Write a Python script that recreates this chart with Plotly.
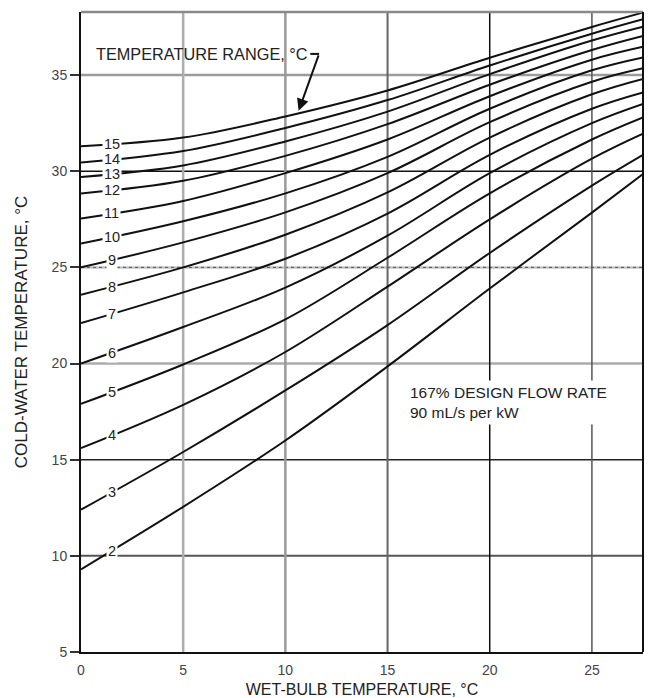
import numpy as np
import plotly.graph_objects as go

# ---- data ----
wet_bulb = [0, 5, 10, 15, 20, 25, 27.5]          # wet-bulb temperature, °C
range_labels = [2, 3, 4, 5, 6, 7, 8, 9, 10, 11, 12, 13, 14, 15]   # temperature range, °C

cw_range_2 = [9.3, 12.55, 16.0, 19.85, 23.9, 27.85, 29.85]
cw_range_3 = [12.4, 15.4, 18.6, 22.0, 25.75, 29.25, 30.85]
cw_range_4 = [15.6, 17.85, 20.6, 24.0, 27.5, 30.65, 31.95]
cw_range_5 = [17.9, 19.95, 22.3, 25.5, 28.85, 31.65, 32.8]
cw_range_6 = [20.0, 21.9, 23.95, 26.65, 29.9, 32.5, 33.5]
cw_range_7 = [22.1, 23.7, 25.45, 27.8, 30.85, 33.25, 34.1]
cw_range_8 = [23.58, 25.0, 26.7, 28.9, 31.75, 34.0, 34.8]
cw_range_9 = [25.0, 26.3, 27.86, 29.9, 32.55, 34.65, 35.35]
cw_range_10 = [26.24, 27.4, 28.85, 30.75, 33.25, 35.25, 35.92]
cw_range_11 = [27.54, 28.45, 29.9, 31.65, 33.9, 35.8, 36.47]
cw_range_12 = [28.84, 29.5, 30.8, 32.45, 34.5, 36.3, 37.03]
cw_range_13 = [29.7, 30.3, 31.55, 33.1, 35.05, 36.8, 37.52]
cw_range_14 = [30.45, 31.05, 32.25, 33.7, 35.5, 37.15, 37.9]
cw_range_15 = [31.3, 31.75, 32.85, 34.2, 35.9, 37.5, 38.25]

cold_water_series = [cw_range_2, cw_range_3, cw_range_4, cw_range_5, cw_range_6,
                     cw_range_7, cw_range_8, cw_range_9, cw_range_10, cw_range_11,
                     cw_range_12, cw_range_13, cw_range_14, cw_range_15]

x_ticks = [0, 5, 10, 15, 20, 25]
y_ticks = [5, 10, 15, 20, 25, 30, 35]

# grid lines (value, colour, width)
h_grid = [(35, "#9c9c9c", 2.5), (30, "#111111", 1.5), (25, "#c4c4c4", 2.5),
          (20, "#ababab", 2.5), (15, "#222222", 1.5), (10, "#555555", 2.0)]
v_grid = [(5, "#adadad", 2.5), (10, "#9a9a9a", 2.5), (15, "#666666", 2.0),
          (20, "#111111", 1.5), (25, "#555555", 1.5)]

X_MAX = 27.5
Y_MIN, Y_MAX = 5, 38.28
FONT = "Liberation Sans, Arial, Helvetica, sans-serif"

fig = go.Figure()

for r, vals in zip(range_labels, cold_water_series):
    fig.add_trace(go.Scatter(
        x=wet_bulb, y=vals, mode="lines", name=f"{r} °C",
        line=dict(color="#111111", width=2, shape="spline", smoothing=1.0),
        showlegend=False, hoverinfo="x+y+name"))

shapes = []
for val, col, w in h_grid:
    shapes.append(dict(type="line", xref="x", yref="y", x0=0, x1=X_MAX, y0=val, y1=val,
                       line=dict(color=col, width=w), layer="below"))
# dotted overlay on the 25 line
shapes.append(dict(type="line", xref="x", yref="y", x0=0, x1=X_MAX, y0=25, y1=25,
                   line=dict(color="#555555", width=1, dash="dot"), layer="below"))
for val, col, w in v_grid:
    shapes.append(dict(type="line", xref="x", yref="y", x0=val, x1=val, y0=Y_MIN, y1=Y_MAX,
                       line=dict(color=col, width=w), layer="below"))
# frame
shapes.append(dict(type="line", xref="paper", yref="paper", x0=0, x1=1, y0=1, y1=1,
                   line=dict(color="#8a8a8a", width=2.5)))
shapes.append(dict(type="line", xref="paper", yref="paper", x0=1, x1=1, y0=0, y1=1,
                   line=dict(color="#111111", width=2)))

annotations = []
# curve labels on the curves near the left edge
label_x = 1.5
for r, vals in zip(range_labels, cold_water_series):
    ly = float(np.interp(label_x, wet_bulb, vals))
    annotations.append(dict(x=label_x, y=ly, xref="x", yref="y", text=str(r),
                            showarrow=False, bgcolor="white", borderpad=1,
                            font=dict(family=FONT, size=14.5, color="#222222")))

# "TEMPERATURE RANGE, °C" with bent leader arrow to the 15 curve
tip_x = 10.65
tip_y = float(np.interp(tip_x, wet_bulb, cw_range_15))
bend_x, bend_y = 11.65, 36.1
annotations.append(dict(x=11.2, y=bend_y, xref="x", yref="y", text="TEMPERATURE RANGE, °C",
                        showarrow=False, xanchor="right", yanchor="middle",
                        font=dict(family=FONT, size=16.3, color="#222222")))
shapes.append(dict(type="line", xref="x", yref="y", x0=11.22, x1=bend_x, y0=bend_y, y1=bend_y,
                   line=dict(color="#111111", width=2)))
annotations.append(dict(x=tip_x, y=tip_y + 0.12, xref="x", yref="y", axref="x", ayref="y",
                        ax=bend_x, ay=bend_y, text="", showarrow=True, arrowhead=2,
                        arrowsize=1.2, arrowwidth=2, arrowcolor="#111111"))

annotations.append(dict(x=15.9, y=17.95, xref="x", yref="y",
                        text="167% DESIGN FLOW RATE<br>90 mL/s per kW",
                        showarrow=False, xanchor="left", yanchor="middle", align="left",
                        bgcolor="white", borderpad=3,
                        font=dict(family=FONT, size=15.5, color="#222222")))

fig.update_layout(
    width=649, height=698,
    margin=dict(l=81, r=6, t=12, b=46, autoexpand=False),
    paper_bgcolor="white", plot_bgcolor="white",
    shapes=shapes, annotations=annotations,
    font=dict(family=FONT, color="#333333"),
    xaxis=dict(range=[0, X_MAX], tickvals=x_ticks, showgrid=False, zeroline=False,
               showline=True, linecolor="#111111", linewidth=2, ticks="",
               ticklabelstandoff=4, automargin=False,
               tickfont=dict(family=FONT, size=14, color="#444444"),
               title=dict(text="WET-BULB TEMPERATURE, °C", standoff=10,
                          font=dict(family=FONT, size=16, color="#222222"))),
    yaxis=dict(range=[Y_MIN, Y_MAX], tickvals=y_ticks, showgrid=False, zeroline=False,
               showline=True, linecolor="#111111", linewidth=2, ticks="outside",
               ticklen=9, tickwidth=1.5, tickcolor="#333333", automargin=False,
               tickfont=dict(family=FONT, size=14, color="#444444"),
               title=dict(text="COLD-WATER TEMPERATURE, °C", standoff=20,
                          font=dict(family=FONT, size=17, color="#222222"))),
)

fig.write_html("out.html", config={"displayModeBar": False},
               post_script="document.body.style.margin='0';document.body.style.padding='0';")
